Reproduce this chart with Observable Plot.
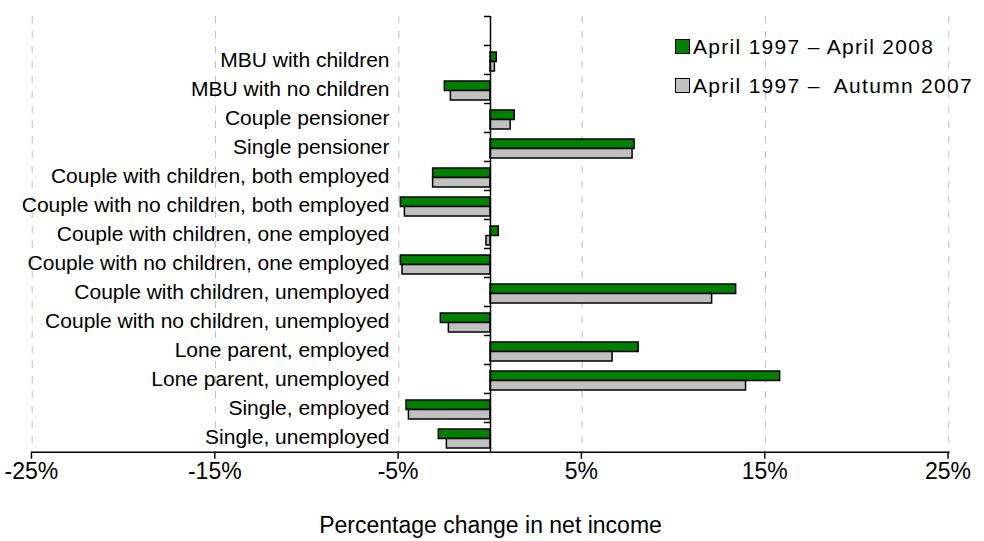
<!DOCTYPE html>
<html>
<head>
<meta charset="utf-8">
<script src="https://cdn.jsdelivr.net/npm/d3@7"></script>
<script src="https://cdn.jsdelivr.net/npm/@observablehq/plot@0.6"></script>
<style>
  body { margin: 0; background: #fff; font-family: "Liberation Sans", Arial, sans-serif; }
  #chart { position: relative; width: 984px; height: 541px; }
  .legend { position: absolute; left: 675px; top: 27px; font-size: 21px; letter-spacing: 1.3px; color: #000; }
  .legend .row { display: flex; align-items: center; height: 39px; white-space: pre; }
  .legend .sw { width: 13px; height: 13px; border: 1.5px solid #000; margin-right: 3px; box-sizing: content-box; }
</style>
</head>
<body>
<div id="chart"></div>
<script>
// Household types, top to bottom
const categories = [
  "MBU with children",
  "MBU with no children",
  "Couple pensioner",
  "Single pensioner",
  "Couple with children, both employed",
  "Couple with no children, both employed",
  "Couple with children, one employed",
  "Couple with no children, one employed",
  "Couple with children, unemployed",
  "Couple with no children, unemployed",
  "Lone parent, employed",
  "Lone parent, unemployed",
  "Single, employed",
  "Single, unemployed"
];

// Series names
const seriesNames = ["April 1997 – April 2008", "April 1997 –  Autumn 2007"];

// Percentage change in net income, per series
const april2008 = [0.34, -2.49, 1.32, 7.86, -3.13, -4.89, 0.45, -4.89, 13.4, -2.71, 8.08, 15.8, -4.58, -2.82];
const autumn2007 = [0.24, -2.16, 1.10, 7.75, -3.13, -4.67, -0.22, -4.80, 12.09, -2.27, 6.66, 13.94, -4.45, -2.38];

// Axis ticks and title
const xTicks = [-25, -15, -5, 5, 15, 25];
const xTitle = "Percentage change in net income";

const colors = ["#008000", "#c0c0c0"];

const rowsA = categories.map((c, i) => ({category: c, series: seriesNames[0], value: april2008[i]}));
const rowsB = categories.map((c, i) => ({category: c, series: seriesNames[1], value: autumn2007[i]}));

// an empty band at the top leaves room for the legend
const yDomain = ["", ...categories];

const chart = Plot.plot({
  width: 984,
  height: 541,
  marginTop: 16,
  marginBottom: 89.3,
  marginLeft: 31.7,
  marginRight: 35.7,
  style: {fontFamily: "'Liberation Sans', Arial, sans-serif", fontSize: "21px", background: "#fff", color: "#000"},
  x: {domain: [-25, 25]},
  y: {domain: yDomain, padding: 0},
  marks: [
    Plot.ruleX(xTicks, {stroke: "#c0c0c0", strokeDasharray: "7,8", strokeWidth: 1}),
    Plot.barX(rowsA, {x: "value", y: "category", fill: colors[0], stroke: "#000", strokeWidth: 1.5, insetTop: 7, insetBottom: 12.5}),
    Plot.barX(rowsB, {x: "value", y: "category", fill: colors[1], stroke: "#000", strokeWidth: 1.5, insetTop: 16.5, insetBottom: 3}),
    Plot.ruleX([0], {stroke: "#000", strokeWidth: 1.5}),
    // category separators on the zero line
    Plot.axisY({tickSize: 6, tickFormat: () => "", dx: 458.3, dy: -14.52, strokeWidth: 1.5, label: null}),
    // category labels
    Plot.axisY({tickSize: 0, tickPadding: 0, dx: 357.3, fontSize: 21, label: null}),
    Plot.frame({anchor: "bottom", stroke: "#000", strokeWidth: 1.5}),
    Plot.axisX({ticks: xTicks, tickFormat: d => `${d}%`, tickSize: 7, tickPadding: 3, fontSize: 23, letterSpacing: 1.5, dx: -0.75, strokeWidth: 1.5, label: null}),
    Plot.text([xTitle], {text: d => d, frameAnchor: "bottom", dy: 81, fontSize: 23, letterSpacing: 1.4})
  ]
});

const host = document.getElementById("chart");
host.appendChild(chart);

const legend = document.createElement("div");
legend.className = "legend";
seriesNames.forEach((name, i) => {
  const row = document.createElement("div");
  row.className = "row";
  const sw = document.createElement("span");
  sw.className = "sw";
  sw.style.background = colors[i];
  row.appendChild(sw);
  row.appendChild(document.createTextNode(name));
  legend.appendChild(row);
});
host.appendChild(legend);
</script>
</body>
</html>
